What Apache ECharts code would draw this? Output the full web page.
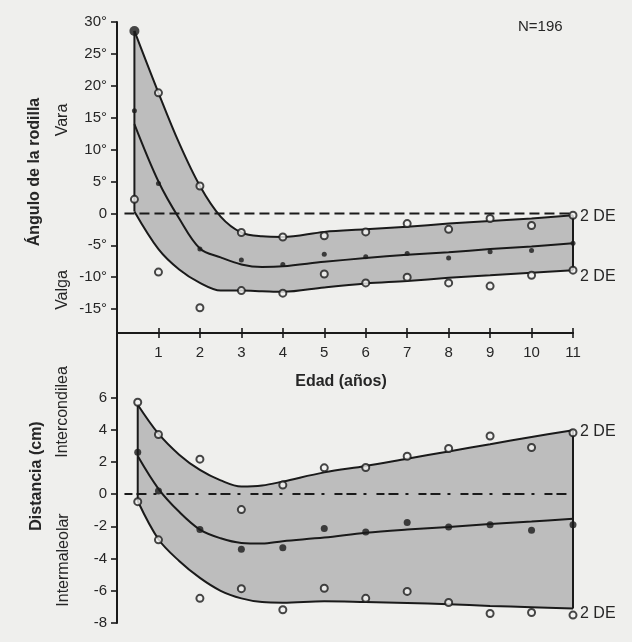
<!DOCTYPE html>
<html>
<head>
<meta charset="utf-8">
<script src="https://cdn.jsdelivr.net/npm/echarts@6/dist/echarts.min.js"></script>
<style>
html,body{margin:0;padding:0;background:#efefed;}
#c{width:632px;height:642px;}
</style>
</head>
<body>
<div id="c"></div>
<script>
// ---------- DATA ----------
// Upper panel: knee angle (degrees)
const topCurveX     = [0.42, 1, 1.5, 2, 2.5, 3, 3.5, 4, 5, 6, 7, 8, 9, 10, 11];
const topUpperCurve = [28.6, 18.9, 11.0, 4.3, -0.5, -3.0, -3.6, -3.7, -2.9, -2.5, -2.1, -1.6, -1.2, -0.8, -0.3];
const topMeanCurve  = [14.0, 5.0, -0.8, -5.5, -6.9, -8.0, -8.4, -8.3, -7.6, -7.0, -6.5, -6.1, -5.6, -5.2, -4.7];
const topLowerCurve = [0.3, -5.6, -8.8, -10.9, -12.1, -12.1, -12.2, -12.3, -11.6, -11.0, -10.6, -10.1, -9.7, -9.3, -8.9];

const topPtX      = [0.42, 1, 2, 3, 4, 5, 6, 7, 8, 9, 10, 11];
const topUpperPts = [28.6, 18.9, 4.3, -3.0, -3.7, -3.5, -2.9, -1.6, -2.5, -0.8, -1.9, -0.3];
const topMeanPts  = [16.1, 4.7, -5.6, -7.3, -8.0, -6.4, -6.8, -6.3, -7.0, -6.0, -5.8, -4.7];
const topLowerPts = [2.2, -9.2, -14.8, -12.1, -12.5, -9.5, -10.9, -10.0, -10.9, -11.4, -9.7, -8.9];

// Lower panel: distance (cm)
const botCurveX     = [0.5, 1, 1.5, 2, 2.5, 3, 3.5, 4, 5, 6, 7, 8, 9, 10, 11];
const botUpperCurve = [5.55, 3.75, 2.45, 1.5, 0.85, 0.47, 0.53, 0.78, 1.35, 1.75, 2.2, 2.65, 3.1, 3.55, 3.96];
const botMeanCurve  = [2.36, 0.33, -1.1, -2.2, -2.74, -3.03, -3.07, -2.92, -2.7, -2.4, -2.2, -2.04, -1.86, -1.7, -1.53];
const botLowerCurve = [-0.43, -2.8, -4.15, -5.2, -6.0, -6.47, -6.7, -6.74, -6.65, -6.7, -6.76, -6.84, -6.94, -7.02, -7.1];

const botPtX      = [0.5, 1, 2, 3, 4, 5, 6, 7, 8, 9, 10, 11];
const botUpperPts = [5.7, 3.7, 2.17, -0.96, 0.56, 1.63, 1.65, 2.35, 2.83, 3.61, 2.89, 3.81];
const botMeanPts  = [2.6, 0.2, -2.2, -3.43, -3.33, -2.14, -2.35, -1.76, -2.04, -1.9, -2.25, -1.9];
const botLowerPts = [-0.47, -2.84, -6.47, -5.87, -7.18, -5.84, -6.47, -6.04, -6.73, -7.41, -7.35, -7.51];

const zeroLineX = [0.18, 11];

const ageTicks   = [1, 2, 3, 4, 5, 6, 7, 8, 9, 10, 11];
const angleTicks = [-15, -10, -5, 0, 5, 10, 15, 20, 25, 30];
const distTicks  = [-8, -6, -4, -2, 0, 2, 4, 6];

// ---------- STYLE ----------
const FONT = '"Liberation Sans", Arial, Helvetica, sans-serif';
const INK = '#1a1a1a';
const TXT = '#262626';
const BAND = '#bdbdbd';
const BG = '#efefed';
const OPEN_FILL = '#f4f4f2';

function pairs(xs, ys) { return xs.map((x, i) => [x, ys[i]]); }

function panelSeries(g, yMin, cx, up, mean, low, px, pu, pm, pl, zeroType, meanSize, firstBig, lowLabelOff) {
  const s = [];
  const sm = 0.35;
  const n = cx.length - 1;
  // band: grey area under the upper curve, then background-coloured area under the lower curve
  s.push({ type: 'line', xAxisIndex: g, yAxisIndex: g, data: pairs(cx, up), smooth: sm, symbol: 'none',
    lineStyle: { opacity: 0 }, areaStyle: { color: BAND, opacity: 1, origin: 'start' }, silent: true, z: 1 });
  s.push({ type: 'line', xAxisIndex: g, yAxisIndex: g, data: pairs(cx, low), smooth: sm, symbol: 'none',
    lineStyle: { opacity: 0 }, areaStyle: { color: BG, opacity: 1, origin: 'start' }, silent: true, z: 2 });
  // hide anti-aliasing seams of the grey area below the band edges
  [0, n].forEach(i => s.push({ type: 'line', xAxisIndex: g, yAxisIndex: g,
    data: [[cx[i], low[i]], [cx[i], yMin]], symbol: 'none',
    lineStyle: { color: BG, width: 2.5 }, silent: true, z: 2 }));
  // zero reference line
  s.push({ type: 'line', xAxisIndex: g, yAxisIndex: g, data: zeroLineX.map(x => [x, 0]), symbol: 'none',
    lineStyle: { color: INK, width: 2, type: zeroType }, silent: true, z: 3 });
  // curves
  const lineStyle = { color: INK, width: 2 };
  const lbl = (off) => ({ show: true, formatter: '2 DE', distance: 7, offset: off,
    fontFamily: FONT, fontSize: 16, color: TXT });
  s.push({ type: 'line', xAxisIndex: g, yAxisIndex: g, data: pairs(cx, up), smooth: sm, symbol: 'none',
    lineStyle, endLabel: lbl([0, 1]), z: 4 });
  s.push({ type: 'line', xAxisIndex: g, yAxisIndex: g, data: pairs(cx, mean), smooth: sm, symbol: 'none',
    lineStyle, z: 4 });
  s.push({ type: 'line', xAxisIndex: g, yAxisIndex: g, data: pairs(cx, low), smooth: sm, symbol: 'none',
    lineStyle, endLabel: lbl(lowLabelOff), z: 4 });
  // band edges
  s.push({ type: 'line', xAxisIndex: g, yAxisIndex: g, data: [[cx[0], up[0]], [cx[0], low[0]]],
    symbol: 'none', lineStyle, z: 4 });
  s.push({ type: 'line', xAxisIndex: g, yAxisIndex: g, data: [[cx[n], up[n]], [cx[n], low[n]]],
    symbol: 'none', lineStyle, z: 4 });
  // data points
  const openStyle = { color: OPEN_FILL, borderColor: INK, borderWidth: 2 };
  s.push({ type: 'scatter', xAxisIndex: g, yAxisIndex: g, symbol: 'circle', symbolSize: 7,
    data: pairs(px, pu).map((d, i) => (i === 0 && firstBig) ? { value: d, symbolSize: 10, itemStyle: { color: INK, borderWidth: 0 } } : d),
    itemStyle: openStyle, z: 5 });
  s.push({ type: 'scatter', xAxisIndex: g, yAxisIndex: g, symbol: 'circle', symbolSize: 7,
    data: pairs(px, pl), itemStyle: openStyle, z: 5 });
  s.push({ type: 'scatter', xAxisIndex: g, yAxisIndex: g, symbol: 'circle', symbolSize: meanSize,
    data: pairs(px, pm), itemStyle: { color: INK }, z: 5 });
  return s;
}

const axisLine = { show: true, onZero: false, lineStyle: { color: INK, width: 2 } };
const tickStyle = { color: INK, width: 1.6 };
const labelBase = { fontFamily: FONT, fontSize: 15, color: TXT };
const TOP_MIN = -18.75, TOP_MAX = 30, BOT_MIN = -8, BOT_MAX = 10;

const option = {
  backgroundColor: BG,
  animation: false,
  grid: [
    { left: 117, top: 22, width: 456, height: 311, outerBoundsMode: 'none' },
    { left: 117, top: 333, width: 456, height: 290, outerBoundsMode: 'none' }
  ],
  xAxis: [
    { gridIndex: 0, type: 'value', min: 0, max: 11, interval: 1, position: 'bottom', z: 8,
      axisLine, splitLine: { show: false },
      axisTick: { show: true, length: 5, customValues: ageTicks, lineStyle: tickStyle },
      axisLabel: Object.assign({ customValues: ageTicks, margin: 12 }, labelBase) },
    { gridIndex: 1, type: 'value', min: 0, max: 11, interval: 1, position: 'top', z: 8,
      axisLine, splitLine: { show: false },
      axisTick: { show: true, length: 5, customValues: ageTicks, lineStyle: tickStyle },
      axisLabel: { show: false } }
  ],
  yAxis: [
    { gridIndex: 0, type: 'value', min: TOP_MIN, max: TOP_MAX, z: 8,
      axisLine, splitLine: { show: false },
      axisTick: { show: true, length: 6, customValues: angleTicks, lineStyle: tickStyle },
      axisLabel: Object.assign({ customValues: angleTicks, margin: 10,
        formatter: v => (v === 0 ? '0' : v + '°') }, labelBase) },
    { gridIndex: 1, type: 'value', min: BOT_MIN, max: BOT_MAX, z: 8,
      axisLine, splitLine: { show: false },
      axisTick: { show: true, length: 6, customValues: distTicks, lineStyle: tickStyle },
      axisLabel: Object.assign({ customValues: distTicks, margin: 10 }, labelBase) }
  ],
  graphic: [
    { type: 'text', x: 35, y: 172, rotation: Math.PI / 2, silent: true,
      style: { text: 'Ángulo de la rodilla', font: 'bold 16px ' + FONT, fill: TXT, align: 'center', verticalAlign: 'middle' } },
    { type: 'text', x: 63, y: 120, rotation: Math.PI / 2, silent: true,
      style: { text: 'Vara', font: '16px ' + FONT, fill: TXT, align: 'center', verticalAlign: 'middle' } },
    { type: 'text', x: 63, y: 290, rotation: Math.PI / 2, silent: true,
      style: { text: 'Valga', font: '16px ' + FONT, fill: TXT, align: 'center', verticalAlign: 'middle' } },
    { type: 'text', x: 37, y: 476, rotation: Math.PI / 2, silent: true,
      style: { text: 'Distancia (cm)', font: 'bold 16px ' + FONT, fill: TXT, align: 'center', verticalAlign: 'middle' } },
    { type: 'text', x: 63, y: 412, rotation: Math.PI / 2, silent: true,
      style: { text: 'Intercondilea', font: '16px ' + FONT, fill: TXT, align: 'center', verticalAlign: 'middle' } },
    { type: 'text', x: 64, y: 560, rotation: Math.PI / 2, silent: true,
      style: { text: 'Intermaleolar', font: '16px ' + FONT, fill: TXT, align: 'center', verticalAlign: 'middle' } },
    { type: 'text', x: 341, y: 382, silent: true,
      style: { text: 'Edad (años)', font: 'bold 16px ' + FONT, fill: TXT, align: 'center', verticalAlign: 'middle' } },
    { type: 'text', x: 518, y: 27, silent: true,
      style: { text: 'N=196', font: '15px ' + FONT, fill: TXT, align: 'left', verticalAlign: 'middle' } }
  ],
  series: [].concat(
    panelSeries(0, TOP_MIN, topCurveX, topUpperCurve, topMeanCurve, topLowerCurve,
      topPtX, topUpperPts, topMeanPts, topLowerPts, [10, 5], 5, true, [0, 6]),
    panelSeries(1, BOT_MIN, botCurveX, botUpperCurve, botMeanCurve, botLowerCurve,
      botPtX, botUpperPts, botMeanPts, botLowerPts, [8, 4, 10, 7, 3, 10], 7, false, [0, 5])
  )
};

const chart = echarts.init(document.getElementById('c'), null, { renderer: 'canvas' });
chart.setOption(option);
</script>
</body>
</html>
